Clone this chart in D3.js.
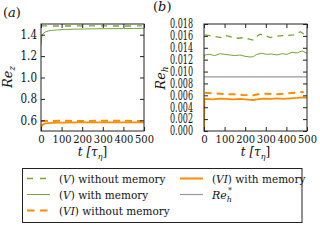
<!DOCTYPE html>
<html>
<head>
<meta charset="utf-8">
<script src="https://cdn.jsdelivr.net/npm/d3@7"></script>
<style>
  body { margin: 0; background: #fff; }
  svg text, svg tspan { font-family: "DejaVu Serif", serif !important; fill: #111; }
</style>
</head>
<body>
<script>
// panel (a): Re_z over time
const aTime = [0, 2, 5, 10, 20, 35, 50, 80, 120, 180, 250, 320, 400, 450, 500];
const aGreenMem = [1.30, 1.36, 1.39, 1.41, 1.425, 1.435, 1.44, 1.445, 1.45, 1.452, 1.455, 1.456, 1.457, 1.458, 1.46];
const aOrangeMem = [0.51, 0.54, 0.553, 0.562, 0.57, 0.574, 0.576, 0.578, 0.579, 0.58, 0.58, 0.581, 0.581, 0.58, 0.581];
const aDashTime = [0, 100, 200, 300, 400, 490];
const aGreenNoMem = [1.482, 1.481, 1.482, 1.482, 1.481, 1.482];
const aOrangeNoMem = [0.594, 0.595, 0.594, 0.595, 0.595, 0.594];

// panel (b): Re_h over time
const bGreenNoMemT = [3, 28, 52, 85, 109, 134, 166, 191, 215, 240, 256, 272, 297, 321, 354, 378, 403, 435, 468, 492];
const bGreenNoMem = [16.16, 16.05, 15.9, 15.7, 16.05, 15.8, 15.6, 15.7, 15.5, 15.3, 15.9, 16.3, 16.05, 15.7, 15.95, 16.05, 16.05, 16.16, 16.7, 16.16];
const bGreenMemT = [0, 3, 28, 52, 77, 101, 126, 150, 174, 199, 223, 240, 256, 280, 305, 329, 354, 378, 403, 427, 452, 476, 500];
const bGreenMem = [12.3, 12.79, 12.9, 12.68, 13.0, 12.9, 12.79, 12.68, 12.79, 12.57, 12.45, 12.5, 12.9, 13.07, 12.9, 12.96, 12.79, 13.0, 12.9, 13.24, 13.13, 13.47, 13.07];
const bOrangeNoMemT = [3, 44, 93, 142, 191, 240, 272, 305, 354, 403, 452, 484];
const bOrangeNoMem = [6.45, 6.34, 6.23, 6.17, 6.06, 6.0, 6.23, 6.28, 6.17, 6.34, 6.45, 6.57];
const bOrangeMemT = [0, 2, 3, 44, 77, 109, 142, 174, 215, 240, 256, 289, 321, 354, 386, 419, 452, 484, 500];
const bOrangeMem = [0, 5.3, 5.39, 5.33, 5.44, 5.39, 5.33, 5.39, 5.27, 5.22, 5.33, 5.44, 5.39, 5.5, 5.39, 5.5, 5.56, 5.67, 5.6];
const reHStar = 0.0091;

const xTicks = [0, 100, 200, 300, 400, 500];
const aYTicks = [0.6, 0.8, 1.0, 1.2, 1.4];
const bYTicks = [0, 0.002, 0.004, 0.006, 0.008, 0.01, 0.012, 0.014, 0.016, 0.018];

const green = "#77a33a";
const orange = "#ff8c00";
const grey = "#999999";

const svg = d3.select("body").append("svg").attr("width", 320).attr("height", 240);

function zip(ts, vs, k) {
  return ts.map((t, i) => [t, vs[i] * (k || 1)]);
}

function panel(left, right, yDomain, yTicks, yFmt, series, labelEnd, labelLen) {
  const x = d3.scaleLinear().domain([0, 500]).range([left, right]);
  const y = d3.scaleLinear().domain(yDomain).range([131, 24]);
  const g = svg.append("g");

  const clip = "clip" + left;
  g.append("clipPath").attr("id", clip)
    .append("rect").attr("x", left).attr("y", 24).attr("width", right - left).attr("height", 107);

  const line = d3.line().x((d) => x(d[0])).y((d) => y(d[1]));
  series.forEach((s) => {
    g.append("path")
      .datum(s.data)
      .attr("clip-path", `url(#${clip})`)
      .attr("fill", "none")
      .attr("stroke", s.color)
      .attr("stroke-width", s.width)
      .attr("stroke-dasharray", s.dash || null)
      .attr("d", line);
  });

  // inward ticks on all four sides
  const ax = (a, tr) => g.append("g").attr("transform", tr).call(a)
    .attr("font-family", null)
    .call((s) => s.select(".domain").remove())
    .call((s) => s.selectAll(".tick line").attr("stroke", "#222"));

  const bottom = ax(d3.axisBottom(x).tickValues(xTicks).tickSizeInner(-4).tickSizeOuter(0).tickPadding(4).tickFormat(d3.format("d")), "translate(0,131)");
  ax(d3.axisTop(x).tickValues(xTicks).tickSizeInner(-4).tickSizeOuter(0).tickFormat(""), "translate(0,24)");
  const leftAx = ax(d3.axisLeft(y).tickValues(yTicks).tickSizeInner(-4).tickSizeOuter(0).tickPadding(4).tickFormat(d3.format(yFmt)), `translate(${left},0)`);
  ax(d3.axisRight(y).tickValues(yTicks).tickSizeInner(-4).tickSizeOuter(0).tickFormat(""), `translate(${right},0)`);

  bottom.selectAll("text").attr("font-size", 11.5).attr("fill", "#111")
    .attr("textLength", (d) => (d === 0 ? 6.5 : 19)).attr("lengthAdjust", "spacingAndGlyphs");
  leftAx.selectAll("text").attr("font-size", 12).attr("fill", "#111")
    .attr("x", labelEnd - left);
  if (labelLen) leftAx.selectAll("text").attr("textLength", labelLen).attr("lengthAdjust", "spacingAndGlyphs");

  g.append("rect").attr("x", left).attr("y", 24).attr("width", right - left).attr("height", 107)
    .attr("fill", "none").attr("stroke", "#222").attr("stroke-width", 1);

  const xl = g.append("text").attr("x", (left + right) / 2).attr("y", 156).attr("text-anchor", "middle").attr("font-size", 12);
  xl.append("tspan").attr("font-style", "italic").text("t [");
  xl.append("tspan").attr("font-style", "italic").text("τ");
  xl.append("tspan").attr("font-style", "italic").attr("font-size", 8).attr("dy", 3).text("η");
  xl.append("tspan").attr("dy", -3).text("]");
}

panel(41, 144, [0.5, 1.5], aYTicks, ".1f", [
  { data: zip(aDashTime, aGreenNoMem), color: green, width: 1.3, dash: "6,6" },
  { data: zip(aTime, aGreenMem), color: green, width: 1 },
  { data: zip(aDashTime, aOrangeNoMem), color: orange, width: 2, dash: "7,5" },
  { data: zip(aTime, aOrangeMem), color: orange, width: 1.8 }
], 37, 16.5);

panel(204, 307, [0, 0.018], bYTicks, ".3f", [
  { data: [[0, reHStar], [500, reHStar]], color: grey, width: 1.2 },
  { data: zip(bGreenNoMemT, bGreenNoMem, 0.001), color: green, width: 1.3, dash: "6,5" },
  { data: zip(bGreenMemT, bGreenMem, 0.001), color: green, width: 1 },
  { data: zip(bOrangeNoMemT, bOrangeNoMem, 0.001), color: orange, width: 2, dash: "7,5" },
  { data: zip(bOrangeMemT, bOrangeMem, 0.001), color: orange, width: 1.8 }
], 193, 23);

// panel letters and y labels
function mathLabel(tx, ty, sub) {
  const t = svg.append("text").attr("transform", `translate(${tx},${ty}) rotate(-90)`)
    .attr("text-anchor", "middle").attr("font-size", 13).attr("font-style", "italic");
  t.append("tspan").text("Re");
  t.append("tspan").attr("font-size", 9).attr("dy", 3).text(sub);
}
mathLabel(12, 77, "z");
mathLabel(165, 78, "h");

function letter(x0, y0, ch) {
  const t = svg.append("text").attr("x", x0).attr("y", y0).attr("font-size", 13);
  t.append("tspan").text("(");
  t.append("tspan").attr("font-style", "italic").text(ch);
  t.append("tspan").text(")");
}
letter(3, 17, "a");
letter(153, 11, "b");

// legend
const legendItems = [
  { roman: "V", rest: " without memory", color: green, width: 1.3, dash: "6,7", col: 0, row: 0 },
  { roman: "V", rest: " with memory", color: green, width: 1, col: 0, row: 1 },
  { roman: "VI", rest: " without memory", color: orange, width: 2.2, dash: "7.5,5.5", col: 0, row: 2 },
  { roman: "VI", rest: " with memory", color: orange, width: 2, col: 1, row: 0 },
  { star: true, color: grey, width: 1.2, col: 1, row: 1 }
];
const lg = svg.append("g");
lg.append("rect").attr("x", 22.5).attr("y", 168.5).attr("width", 279.5).attr("height", 54)
  .attr("fill", "#fff").attr("stroke", "#222").attr("stroke-width", 1);
const colX = [27, 180];
const rowY = [178.5, 194.5, 210.5];
legendItems.forEach((d) => {
  const hx = colX[d.col], hy = rowY[d.row];
  lg.append("line").attr("x1", hx).attr("x2", hx + 23).attr("y1", hy).attr("y2", hy)
    .attr("stroke", d.color).attr("stroke-width", d.width).attr("stroke-dasharray", d.dash || null);
  const t = lg.append("text").attr("x", hx + 32).attr("y", hy + 4).attr("font-size", 10.5);
  if (d.star) {
    t.append("tspan").attr("font-style", "italic").attr("font-size", 11).text("Re");
    t.append("tspan").attr("font-style", "italic").attr("font-size", 8).attr("dy", 3).text("h");
    t.append("tspan").attr("font-size", 8).attr("dx", -4).attr("dy", -9).text("*");
  } else {
    t.append("tspan").text("(");
    t.append("tspan").attr("font-style", "italic").text(d.roman);
    t.append("tspan").text(")");
    t.append("tspan").text(d.rest);
  }
});
</script>
</body>
</html>
